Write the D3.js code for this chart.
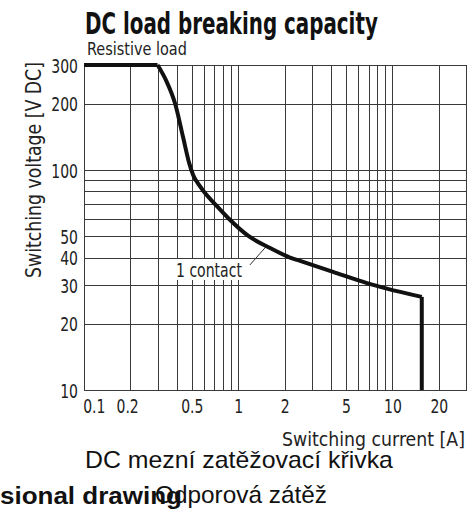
<!DOCTYPE html>
<html>
<head>
<meta charset="utf-8">
<script src="https://cdn.jsdelivr.net/npm/d3@7"></script>
<style>
  body { margin: 0; background: #fff; }
  svg { display: block; }
  .narrow { font-family: "DejaVu Sans Condensed", "DejaVu Sans", sans-serif; }
  .plain { font-family: "Liberation Sans", Arial, sans-serif; }
</style>
</head>
<body>
<svg></svg>
<script>
// switching current [A] vs switching voltage [V DC]
var curveCurrent = [0.3, 0.34, 0.39, 0.44, 0.48, 0.51, 0.557, 0.609, 0.707, 0.86, 1.17, 1.61, 2.17, 2.52, 4.12, 6.84, 9.2, 15.5];
var curveVoltage = [300, 256, 200, 140, 108, 95, 85.5, 78.6, 70, 60.5, 50, 44.2, 40, 38.6, 34.4, 30.6, 28.9, 26.5];
var flatCurrent = [0.1, 0.3];
var flatVoltage = [300, 300];
var dropCurrent = [15.5, 15.5];
var dropVoltage = [26.5, 10];

var xGrid = [0.2, 0.3, 0.4, 0.5, 0.6, 0.7, 0.8, 0.9, 1, 2, 3, 4, 5, 6, 7, 8, 9, 10, 20];
var yGrid = [20, 30, 40, 50, 60, 70, 80, 90, 100, 200];
var xTicks = [0.1, 0.2, 0.5, 1, 2, 5, 10, 20];
var yTicks = [10, 20, 30, 40, 50, 100, 200, 300];

var W = 476, H = 512;
var svg = d3.select("svg").attr("width", W).attr("height", H);

var margin = { top: 65, right: 10, bottom: 122, left: 84 };
var x = d3.scaleLog().domain([0.1, 30]).range([margin.left, W - margin.right]);
var y = d3.scaleLog().domain([10, 300]).range([H - margin.bottom, margin.top]);

var gridColor = "#3a3a3a";

// squeeze a text horizontally so it spans `width` px starting at (tx, ty)
function fitText(parent, cls, str, tx, ty, width, size, weight, rot) {
    var g = parent.append("g");
    var t = g.append("text").attr("class", cls)
        .attr("font-size", size).attr("font-weight", weight || "normal")
        .attr("fill", "#111").text(str);
    var k = width / t.node().getComputedTextLength();
    if (rot) {
        t.attr("text-anchor", "middle");
        g.attr("transform", "translate(" + tx + "," + ty + ") rotate(-90) scale(" + k + ",1)");
    } else {
        g.attr("transform", "translate(" + tx + "," + ty + ") scale(" + k + ",1)");
    }
    return t;
}

// grid
svg.append("g").selectAll("line")
    .data(xGrid).enter().append("line")
    .attr("x1", function (d) { return Math.round(x(d)) + 0.5; })
    .attr("x2", function (d) { return Math.round(x(d)) + 0.5; })
    .attr("y1", y(300)).attr("y2", y(10))
    .attr("stroke", gridColor).attr("stroke-width", 1);

svg.append("g").selectAll("line")
    .data(yGrid).enter().append("line")
    .attr("y1", function (d) { return Math.round(y(d)) + 0.5; })
    .attr("y2", function (d) { return Math.round(y(d)) + 0.5; })
    .attr("x1", x(0.1)).attr("x2", x(30))
    .attr("stroke", gridColor).attr("stroke-width", 1);

svg.append("rect")
    .attr("x", x(0.1) + 0.5).attr("y", y(300) + 0.5)
    .attr("width", x(30) - x(0.1)).attr("height", y(10) - y(300))
    .attr("fill", "none").attr("stroke", gridColor).attr("stroke-width", 1);

// axes (labels only)
var yAxis = svg.append("g")
    .attr("transform", "translate(" + (x(0.1) - 6) + ",0)")
    .call(d3.axisLeft(y).tickValues(yTicks).tickFormat(d3.format("")).tickSize(0).tickPadding(0));
yAxis.select(".domain").remove();
yAxis.selectAll("text")
    .attr("class", "narrow")
    .attr("font-size", 19).attr("fill", "#222").attr("dy", "0.38em")
    .attr("transform", "scale(0.82,1)");

var xAxis = svg.append("g")
    .attr("transform", "translate(0," + (y(10) + 23) + ")")
    .call(d3.axisBottom(x).tickValues(xTicks).tickFormat(d3.format("")).tickSize(0).tickPadding(0));
xAxis.select(".domain").remove();
xAxis.selectAll("text")
    .attr("class", "narrow")
    .attr("font-size", 19).attr("fill", "#222").attr("dy", null)
    .attr("transform", "scale(0.82,1)");
xAxis.selectAll(".tick").filter(function (d) { return d === 0.1; })
    .select("text").attr("dx", 12);
xAxis.selectAll(".tick").filter(function (d) { return d === 0.2; })
    .select("text").attr("dx", -4);

// label "1 contact" with white box over the grid
var lab = svg.append("g");
lab.append("rect")
    .attr("x", 169).attr("y", 259).attr("width", 78).attr("height", 21)
    .attr("fill", "#fff");
fitText(lab, "narrow", "1 contact", 176, 277, 66, 19).attr("fill", "#222");
lab.append("line")
    .attr("x1", x(1.19)).attr("y1", y(37)).attr("x2", x(1.51)).attr("y2", y(44.7))
    .attr("stroke", "#333").attr("stroke-width", 1);

// characteristic curve
var pts = function (xs, ys) { return xs.map(function (v, i) { return [v, ys[i]]; }); };
var straight = d3.line().x(function (d) { return x(d[0]); }).y(function (d) { return y(d[1]); });
var smooth = d3.line().curve(d3.curveMonotoneX).x(function (d) { return x(d[0]); }).y(function (d) { return y(d[1]); });

svg.append("path").attr("d", straight(pts(flatCurrent, flatVoltage)))
    .attr("fill", "none").attr("stroke", "#111").attr("stroke-width", 4);
svg.append("path").attr("d", smooth(pts(curveCurrent, curveVoltage)))
    .attr("fill", "none").attr("stroke", "#111").attr("stroke-width", 4);
svg.append("path").attr("d", straight(pts(dropCurrent, dropVoltage)))
    .attr("fill", "none").attr("stroke", "#111").attr("stroke-width", 4);

// titles
fitText(svg, "narrow", "DC load breaking capacity", 85, 34, 293, 30, "bold");
fitText(svg, "narrow", "Resistive load", 87, 55, 100, 17).attr("fill", "#222");
fitText(svg, "narrow", "Switching voltage [V DC]", 41, 170, 216, 21, "normal", true).attr("fill", "#222");
fitText(svg, "narrow", "Switching current [A]", 282, 446, 183, 19).attr("fill", "#222");

// caption below the chart
fitText(svg, "plain", "DC mezní zatěžovací křivka", 85, 468, 308, 24);
fitText(svg, "plain", "sional drawing", 0, 504, 182, 23, "bold");
fitText(svg, "plain", "Odporová zátěž", 155, 503, 172, 24);
</script>
</body>
</html>
